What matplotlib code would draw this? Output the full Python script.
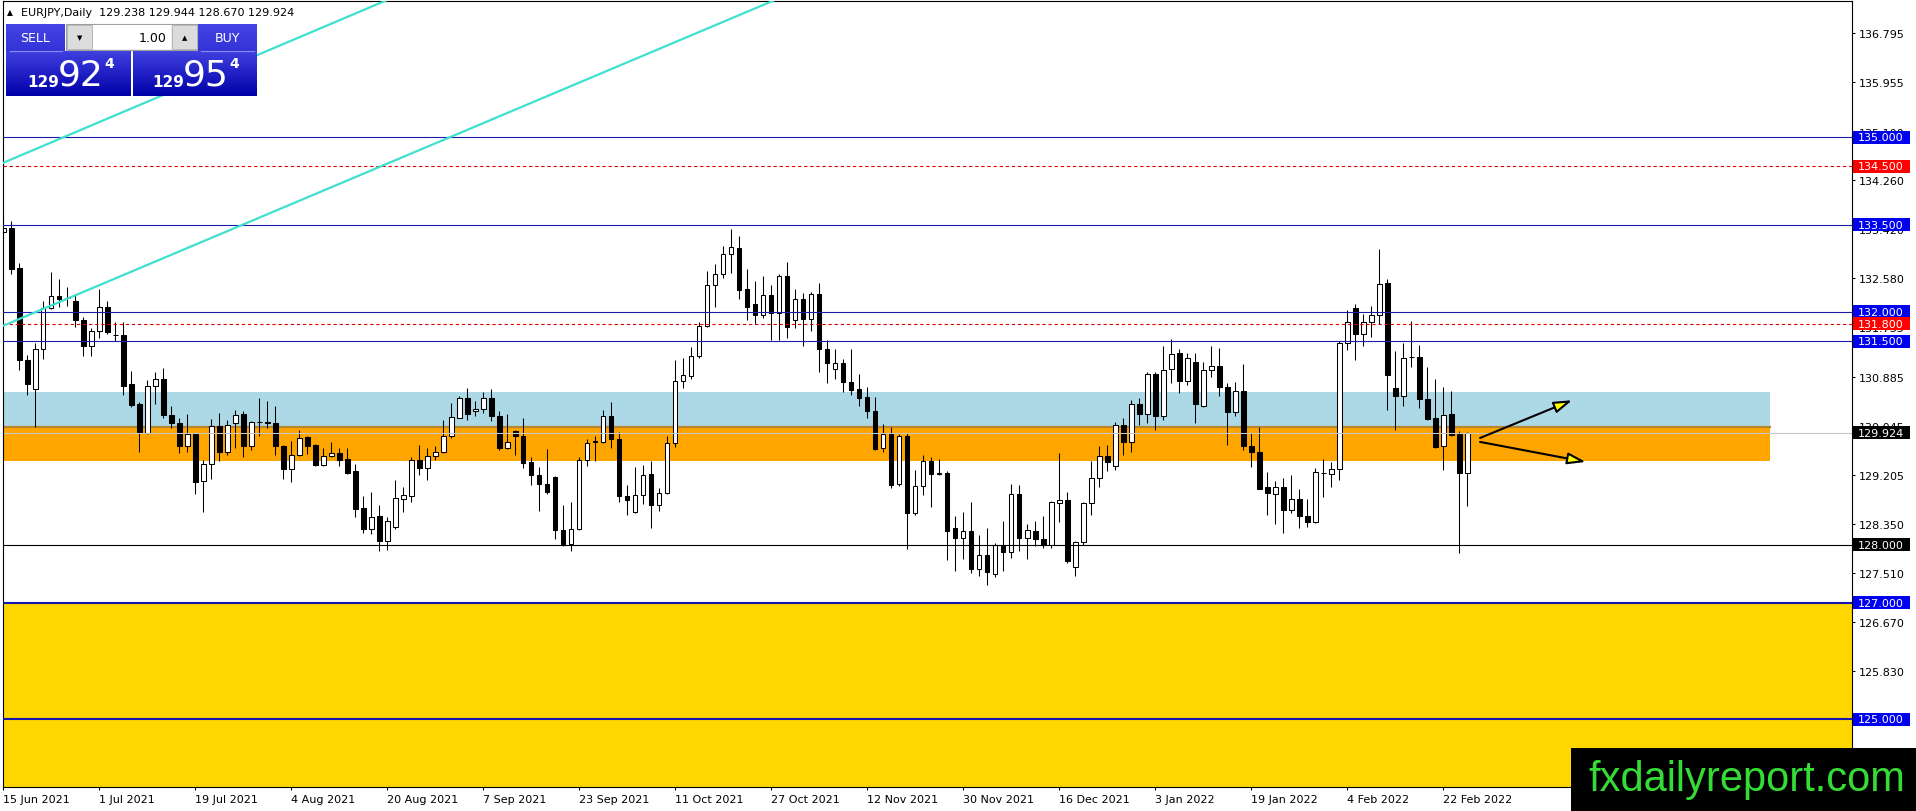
import matplotlib
matplotlib.use("Agg")
import matplotlib.pyplot as plt
import matplotlib.transforms as mtransforms
import numpy as np
from matplotlib.patches import Rectangle, FancyArrowPatch, ArrowStyle

W, H, DPI = 1916, 812, 100

# ---- EURJPY daily candles, 15 Jun 2021 .. 25 Feb 2022 ----
opens = [
    133.37, 133.44, 132.75, 131.18, 130.68, 131.36, 132.06, 132.28, 132.24, 132.18,
    131.87, 131.42, 131.67, 132.09, 131.60, 131.60, 130.76, 130.42, 129.92, 130.73,
    130.85, 130.23, 130.10, 129.69, 129.90, 129.10, 129.38, 130.04, 129.60, 130.09,
    130.24, 129.69, 130.11, 130.11, 130.10, 129.70, 129.30, 129.54, 129.85, 129.72,
    129.37, 129.52, 129.58, 129.47, 129.26, 128.63, 128.27, 128.49, 128.06, 128.30,
    128.79, 128.84, 129.45, 129.32, 129.53, 129.60, 129.86, 130.18, 130.52, 130.30,
    130.33, 130.52, 130.22, 129.67, 129.95, 129.86, 129.42, 129.19, 129.05, 129.16,
    128.26, 128.02, 128.27, 129.46, 129.78, 129.77, 130.22, 129.82, 128.83, 128.57,
    128.85, 129.21, 128.68, 128.89, 129.74, 130.82, 130.90, 131.24, 131.76, 132.46,
    132.66, 132.99, 133.10, 132.39, 132.14, 131.94, 132.30, 131.99, 132.61, 131.86,
    132.23, 131.88, 132.31, 131.37, 131.02, 131.13, 130.80, 130.67, 130.54, 130.29,
    129.67, 129.91, 129.04, 129.86, 128.55, 129.01, 129.44, 129.21, 129.24, 128.28,
    128.12, 128.24, 127.58, 127.83, 127.49, 127.99, 127.88, 128.88, 128.12, 128.23,
    128.09, 128.00, 128.72, 128.77, 127.62, 128.05, 128.71, 129.15, 129.52, 129.36,
    130.06, 129.76, 130.41, 130.25, 130.94, 130.21, 131.02, 131.29, 130.81, 131.14,
    130.39, 131.00, 131.07, 130.71, 130.28, 130.65, 129.69, 129.59, 128.99, 128.88,
    129.00, 128.60, 128.78, 128.50, 128.39, 129.23, 129.22, 129.30, 131.46, 132.07,
    131.62, 131.83, 131.94, 132.50, 130.70, 130.55, 131.22, 131.23, 130.51, 130.17,
    129.70, 130.24, 129.90, 129.238,
]
highs = [
    133.65, 133.56, 132.85, 131.26, 131.46, 132.18, 132.68, 132.56, 132.43, 132.31,
    131.92, 131.72, 132.39, 132.19, 131.83, 131.82, 130.99, 130.45, 130.83, 130.96,
    131.04, 130.39, 130.17, 130.25, 129.92, 129.46, 130.16, 130.26, 130.14, 130.31,
    130.29, 130.13, 130.53, 130.47, 130.39, 129.72, 129.79, 129.98, 129.87, 129.73,
    129.66, 129.77, 129.67, 129.67, 129.39, 128.84, 128.91, 128.68, 128.47, 129.11,
    129.00, 129.51, 129.72, 129.67, 129.69, 130.14, 130.43, 130.56, 130.70, 130.47,
    130.63, 130.68, 130.29, 130.24, 129.97, 130.17, 129.50, 129.33, 129.65, 129.18,
    128.68, 128.74, 129.51, 129.82, 129.86, 130.32, 130.45, 129.93, 129.02, 129.34,
    129.37, 129.44, 128.98, 129.86, 131.17, 131.21, 131.40, 131.83, 132.71, 132.82,
    133.13, 133.42, 133.31, 132.73, 132.54, 132.62, 132.47, 132.65, 132.86, 132.39,
    132.33, 132.35, 132.50, 131.52, 131.37, 131.20, 131.37, 130.94, 130.71, 130.54,
    130.07, 130.02, 129.90, 129.92, 129.28, 129.55, 129.51, 129.48, 129.27, 128.49,
    128.56, 128.73, 128.17, 128.29, 128.03, 128.41, 129.05, 129.02, 128.36, 128.41,
    128.50, 128.75, 129.58, 128.91, 128.07, 128.73, 129.44, 129.69, 129.72, 130.11,
    130.17, 130.49, 130.52, 130.97, 130.96, 131.41, 131.54, 131.36, 131.29, 131.29,
    131.14, 131.42, 131.38, 130.78, 130.79, 131.11, 129.92, 130.02, 129.25, 129.09,
    129.14, 129.19, 128.95, 128.79, 129.32, 129.48, 129.42, 131.50, 132.04, 132.13,
    131.97, 132.10, 133.09, 132.56, 131.33, 131.47, 131.85, 131.44, 131.06, 130.84,
    130.71, 130.65, 129.95, 129.944,
]
lows = [
    133.24, 132.65, 131.00, 130.58, 130.02, 131.19, 132.05, 132.09, 132.11, 131.75,
    131.25, 131.25, 131.55, 131.63, 131.50, 130.57, 130.37, 129.59, 129.90, 130.42,
    130.18, 130.00, 129.58, 129.60, 128.87, 128.57, 129.13, 129.44, 129.55, 129.66,
    129.51, 129.63, 129.86, 130.00, 129.55, 129.13, 129.08, 129.52, 129.56, 129.35,
    129.35, 129.50, 129.36, 129.21, 128.47, 128.21, 128.19, 127.89, 127.91, 128.27,
    128.56, 128.74, 129.20, 129.11, 129.46, 129.57, 129.84, 130.17, 130.14, 130.21,
    130.26, 130.13, 129.63, 129.65, 129.55, 129.32, 129.03, 128.58, 128.87, 128.10,
    127.97, 127.89, 128.25, 129.36, 129.44, 129.75, 129.66, 128.74, 128.51, 128.55,
    128.70, 128.29, 128.58, 128.87, 129.68, 130.70, 130.84, 131.21, 131.74, 132.08,
    132.58, 132.67, 132.22, 131.87, 131.80, 131.90, 131.51, 131.51, 131.56, 131.72,
    131.41, 131.68, 130.97, 130.78, 130.85, 130.63, 130.58, 130.38, 130.18, 129.62,
    129.60, 128.98, 129.01, 127.92, 128.51, 128.86, 128.65, 129.19, 127.73, 127.55,
    127.76, 127.52, 127.46, 127.31, 127.45, 127.54, 127.77, 127.89, 127.76, 127.97,
    127.94, 127.94, 128.39, 127.68, 127.46, 128.00, 128.51, 128.99, 129.26, 129.29,
    129.55, 129.59, 130.06, 130.09, 129.97, 130.15, 130.78, 130.60, 130.75, 130.10,
    130.37, 130.89, 130.55, 129.72, 130.22, 129.63, 129.34, 128.95, 128.51, 128.36,
    128.20, 128.55, 128.28, 128.30, 128.37, 128.82, 128.99, 129.12, 131.35, 131.18,
    131.41, 131.57, 131.79, 130.32, 129.98, 130.38, 131.05, 130.35, 130.14, 129.66,
    129.29, 129.86, 127.86, 128.670,
]
closes = [
    133.44, 132.74, 131.17, 130.76, 131.36, 132.07, 132.28, 132.23, 132.24, 131.86,
    131.42, 131.67, 132.09, 131.65, 131.60, 130.73, 130.40, 129.93, 130.73, 130.85,
    130.23, 130.09, 129.69, 129.91, 129.08, 129.38, 130.04, 129.60, 130.06, 130.23,
    129.69, 130.11, 130.11, 130.10, 129.70, 129.30, 129.54, 129.84, 129.70, 129.37,
    129.53, 129.58, 129.46, 129.23, 128.61, 128.27, 128.47, 128.06, 128.40, 128.80,
    128.86, 129.45, 129.32, 129.53, 129.60, 129.86, 130.20, 130.52, 130.25, 130.34,
    130.52, 130.22, 129.67, 129.76, 129.86, 129.40, 129.19, 129.04, 128.90, 128.25,
    128.02, 128.27, 129.46, 129.74, 129.77, 130.22, 129.81, 128.83, 128.77, 128.85,
    129.20, 128.68, 128.89, 129.75, 130.82, 130.92, 131.24, 131.76, 132.46, 132.66,
    132.99, 133.12, 132.38, 132.08, 131.94, 132.30, 131.99, 132.62, 131.74, 132.23,
    131.88, 132.31, 131.37, 131.12, 131.13, 130.80, 130.66, 130.53, 130.29, 129.65,
    129.91, 129.03, 129.86, 128.55, 129.01, 129.44, 129.21, 129.24, 128.24, 128.12,
    128.24, 127.58, 127.83, 127.53, 127.99, 127.88, 128.88, 128.12, 128.25, 128.09,
    128.00, 128.73, 128.77, 127.72, 128.05, 128.71, 129.15, 129.53, 129.42, 130.06,
    129.76, 130.41, 130.25, 130.94, 130.21, 131.00, 131.28, 130.81, 131.21, 130.42,
    131.00, 131.07, 130.71, 130.28, 130.65, 129.69, 129.59, 128.96, 128.89, 129.00,
    128.60, 128.78, 128.49, 128.39, 129.25, 129.23, 129.30, 131.46, 131.83, 131.62,
    131.83, 131.94, 132.48, 130.92, 130.55, 131.21, 131.22, 130.51, 130.16, 129.68,
    130.23, 129.89, 129.24, 129.924,
]

date_labels = ["15 Jun 2021", "1 Jul 2021", "19 Jul 2021", "4 Aug 2021", "20 Aug 2021",
               "7 Sep 2021", "23 Sep 2021", "11 Oct 2021", "27 Oct 2021", "12 Nov 2021",
               "30 Nov 2021", "16 Dec 2021", "3 Jan 2022", "19 Jan 2022", "4 Feb 2022",
               "22 Feb 2022"]
DATE_STEP = 12  # bars between date labels

ytick_values = [136.795, 135.955, 135.100, 134.260, 133.420, 132.580, 131.735,
                130.885, 130.045, 129.205, 128.350, 127.510, 126.670, 125.830,
                124.990, 124.150]

blue_levels = [135.0, 133.5, 132.0, 131.5]
red_levels = [134.5, 131.8]
black_level = 128.0
zone_levels = [127.0, 125.0]
bid_price = 129.924

blue_zone = (130.03, 130.63)
orange_zone = (129.435, 130.03)
zone_end_bar = 220.8

trend_x = [-0.41, 37.5]
trend_upper = [134.54, 136.75]
trend_lower = [131.74, 133.94]

arrow_start = [(184.6, 129.835), (184.6, 129.767)]
arrow_end = [(196.1, 130.483), (197.8, 129.423)]

header = "EURJPY,Daily  129.238 129.944 128.670 129.924"

assert len(opens) == len(highs) == len(lows) == len(closes) == 184

# ---- layout (pixels) ----
AX_L, AX_R, AX_T, AX_B = 2.5, 1852.0, 2.0, 788.3
AXW = AX_R - AX_L
XMIN, XMAX = (AX_L - 3.3) / 8, (AX_R - 3.3) / 8
YMAX, YMIN = 135 + (138.4 - AX_T) / 58.19, 135 - (AX_B - 138.4) / 58.19

NAVY = "#1c1ca8"
LABEL_BLUE = "#0000f0"

fig = plt.figure(figsize=(W / DPI, H / DPI), dpi=DPI, facecolor="white")
ax = fig.add_axes([AX_L / W, (H - AX_B) / H, AXW / W, (AX_B - AX_T) / H])
ax.set_xlim(XMIN, XMAX)
ax.set_ylim(YMIN, YMAX)

# zones
ax.add_patch(Rectangle((XMIN, YMIN), XMAX - XMIN, zone_levels[0] - YMIN,
                       facecolor="#ffd700", edgecolor="none", zorder=0.5))
ax.add_patch(Rectangle((XMIN, blue_zone[0]), zone_end_bar - XMIN, blue_zone[1] - blue_zone[0],
                       facecolor="#add8e6", edgecolor="none", zorder=0.6))
ax.add_patch(Rectangle((XMIN, orange_zone[0]), zone_end_bar - XMIN, orange_zone[1] - orange_zone[0],
                       facecolor="#ffa500", edgecolor="none", zorder=0.7))
ax.plot([XMIN, zone_end_bar], [orange_zone[1]] * 2, color="#b8862b", lw=1.6, zorder=0.8)

# candles
o = np.array(opens)
c = np.array(closes)
idx = np.arange(len(o))
ax.vlines(idx, lows, highs, color="black", lw=0.75, zorder=2)
faces = ["white" if cc > oo else "black" for oo, cc in zip(o, c)]
ax.bar(idx, np.abs(c - o), bottom=np.minimum(o, c), width=0.55, color=faces,
       edgecolor="black", linewidth=0.75, zorder=2.2)

# horizontal levels
for lv in blue_levels:
    ax.axhline(lv, color=NAVY, lw=0.8, zorder=3)
for lv in red_levels:
    ax.axhline(lv, color="#e00000", lw=0.8, ls=(0, (3, 2.5)), zorder=3)
ax.axhline(black_level, color="black", lw=0.8, zorder=3)
for lv in zone_levels:
    ax.axhline(lv, color="#1515b0", lw=1.5, zorder=3)
ax.axhline(bid_price, color="#c8c8c8", lw=0.8, zorder=2.5)

# trend channel
for ys in (trend_upper, trend_lower):
    slope = (ys[1] - ys[0]) / (trend_x[1] - trend_x[0])
    x2 = XMAX
    ax.plot([trend_x[0], x2], [ys[0], ys[0] + slope * (x2 - trend_x[0])],
            color="#40e0d0", lw=1.6, zorder=3.2)

# scenario arrows
for s, e in zip(arrow_start, arrow_end):
    ax.add_patch(FancyArrowPatch(s, e, arrowstyle=ArrowStyle("-|>", head_length=11, head_width=3.5),
                                 mutation_scale=1, lw=1.5, edgecolor="black",
                                 facecolor="#ffff00", shrinkA=0, shrinkB=0, zorder=5))

# axes styling
for sp in ax.spines.values():
    sp.set_color("black")
    sp.set_linewidth(0.8)
ax.yaxis.tick_right()
ax.set_yticks(ytick_values)
ax.set_yticklabels([f"{v:.3f}" for v in ytick_values])
ax.tick_params(axis="y", length=2.5, width=0.75, pad=2.5, labelsize=8, colors="black")
ax.set_xticks(range(0, DATE_STEP * len(date_labels), DATE_STEP))
ax.set_xticklabels(date_labels, ha="left")
ax.tick_params(axis="x", length=2.5, width=0.75, pad=2, labelsize=8)

# price labels on the right scale
trans = mtransforms.blended_transform_factory(ax.transAxes, ax.transData)
box_h = 13 / 58.19
price_tags = [(lv, LABEL_BLUE) for lv in blue_levels + zone_levels] + \
             [(lv, "#ff0000") for lv in red_levels] + \
             [(black_level, "black"), (bid_price, "black")]
for lv, col in price_tags:
    ax.add_patch(Rectangle((1 + 1 / AXW, lv - box_h / 2), 57 / AXW, box_h, transform=trans,
                           facecolor=col, edgecolor="none", clip_on=False, zorder=6))
    ax.text(1 + 6 / AXW, lv, f"{lv:.3f}", transform=trans, color="white", fontsize=8,
            va="center", ha="left", clip_on=False, zorder=7)

# ---- overlay in pixel coordinates: trade panel, header, watermark ----
ov = fig.add_axes([0, 0, 1, 1], zorder=10)
ov.set_xlim(0, W)
ov.set_ylim(H, 0)
ov.axis("off")


def gradient(x0, x1, y0, y1, top, bottom):
    g = np.linspace(0, 1, 60)[:, None, None]
    arr = np.array(top)[None, None, :] * (1 - g) + np.array(bottom)[None, None, :] * g
    ov.imshow(arr, extent=(x0, x1, y1, y0), aspect="auto", origin="upper",
              interpolation="bilinear", zorder=1)


ov.text(7, 13, "\u25b2", fontsize=5.5, va="center", ha="left")
ov.text(21, 13, header, fontsize=8, va="center", ha="left")

blue_top = (0.25, 0.25, 0.88)
blue_bot = (0.0, 0.0, 0.66)
gradient(6, 65, 25, 52, (0.27, 0.27, 0.90), (0.20, 0.20, 0.84))
gradient(198, 257, 25, 52, (0.27, 0.27, 0.90), (0.20, 0.20, 0.84))
gradient(6, 131, 52, 97, blue_top, blue_bot)
gradient(133, 257, 52, 97, blue_top, blue_bot)
ov.plot([10, 62], [52, 52], color="#8c8cf0", lw=0.8, zorder=2)
ov.plot([201, 254], [52, 52], color="#8c8cf0", lw=0.8, zorder=2)
ov.text(35, 38.5, "SELL", color="white", fontsize=9, ha="center", va="center", zorder=3)
ov.text(227, 38.5, "BUY", color="white", fontsize=9, ha="center", va="center", zorder=3)

ov.add_patch(Rectangle((66, 25), 131, 26, facecolor="#f0f0f0", edgecolor="#a0a0a0", lw=0.8, zorder=2))
ov.add_patch(Rectangle((67, 26), 25, 24, facecolor="#dcdcdc", edgecolor="#b0b0b0", lw=0.6, zorder=2))
ov.add_patch(Rectangle((172, 26), 25, 24, facecolor="#dcdcdc", edgecolor="#b0b0b0", lw=0.6, zorder=2))
ov.add_patch(Rectangle((93, 26), 78, 24, facecolor="white", edgecolor="none", zorder=2))
ov.text(79.5, 38, "\u25bc", fontsize=5, ha="center", va="center", zorder=3)
ov.text(184.5, 38, "\u25b2", fontsize=5, ha="center", va="center", zorder=3)
ov.text(167, 38, "1.00", fontsize=9, ha="right", va="center", zorder=3)

for cx, big in ((0, "92"), (125, "95")):
    ov.text(43.5 + cx, 82.5, "129", color="white", fontsize=11, fontweight="bold",
            ha="center", va="center", zorder=3)
    ov.text(81 + cx, 75, big, color="white", fontsize=26, ha="center", va="center", zorder=3)
    ov.text(109 + cx, 64, "4", color="white", fontsize=10, fontweight="bold",
            ha="center", va="center", zorder=3)

ov.add_patch(Rectangle((1571, 749), W - 1571, H - 749, facecolor="black", edgecolor="none", zorder=2))
ov.text(1588, 791, "fxdailyreport.com", family="Liberation Sans", fontsize=30,
        color="#35dc35", ha="left", va="baseline", zorder=3)

fig.savefig("out.png", dpi=DPI, facecolor="white")
